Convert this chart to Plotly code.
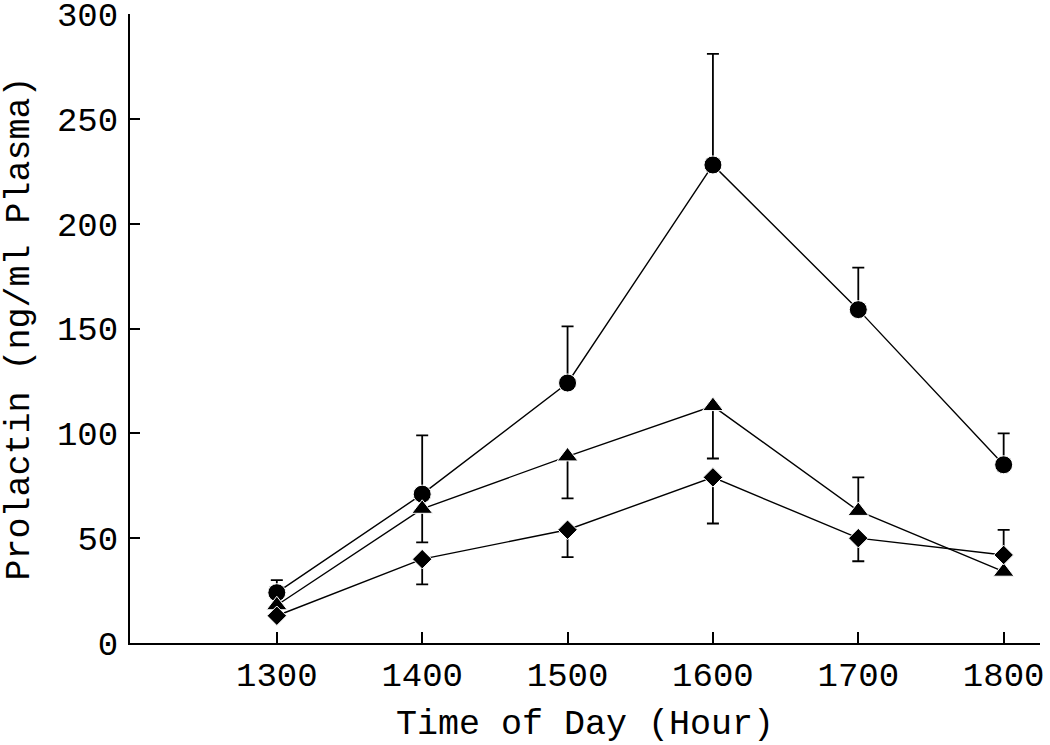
import plotly.graph_objects as go

hours = [1300, 1400, 1500, 1600, 1700, 1800]
tick_labels = ["1300", "1400", "1500", "1600", "1700", "1800"]

circle_vals = [24, 71, 124, 228, 159, 85]
circle_err_up = [6, 28, 27, 53, 20, 15]
circle_err_down = [0, 0, 0, 0, 0, 0]

triangle_vals = [18, 64, 89, 113, 63, 34]
triangle_err_up = [0, 0, 0, 0, 16, 0]
triangle_err_down = [0, 16, 20, 25, 0, 0]

diamond_vals = [13, 40, 54, 79, 50, 42]
diamond_err_up = [0, 0, 0, 0, 0, 12]
diamond_err_down = [0, 12, 13, 22, 11, 0]

y_ticks = [0, 50, 100, 150, 200, 250, 300]

FONT = "Liberation Mono"

fig = go.Figure()

series = [
    ("circle", circle_vals, circle_err_up, circle_err_down, 18),
    ("triangle-up", triangle_vals, triangle_err_up, triangle_err_down, 18),
    ("diamond", diamond_vals, diamond_err_up, diamond_err_down, 15),
]

for sym, vals, up, down, size in series:
    fig.add_trace(go.Scatter(
        x=hours, y=vals, mode="lines+markers",
        line=dict(color="black", width=1.4),
        marker=dict(symbol=sym, size=size, color="black",
                    line=dict(color="white", width=1)),
        error_y=dict(type="data", symmetric=False, array=up, arrayminus=down,
                     color="black", thickness=1.8, width=6),
        showlegend=False,
    ))

fig.update_layout(
    width=1050, height=745,
    margin=dict(l=130, r=10, t=14, b=102),
    paper_bgcolor="white", plot_bgcolor="white",
    font=dict(family=FONT, size=34, color="black"),
)

fig.update_xaxes(
    range=[1199, 1825],
    tickmode="array", tickvals=hours, ticktext=tick_labels,
    ticks="inside", ticklen=11, tickwidth=2, tickcolor="black",
    showline=True, linecolor="black", linewidth=2,
    showgrid=False, zeroline=False, automargin=False,
    ticklabeloverflow="allow",
    title=dict(text="Time of Day (Hour)", font=dict(size=35), standoff=16),
    tickfont=dict(size=34),
)
fig.update_yaxes(
    range=[0, 300],
    tickmode="array", tickvals=y_ticks,
    ticks="inside", ticklen=10, tickwidth=2, tickcolor="black",
    showline=True, linecolor="black", linewidth=2,
    showgrid=False, zeroline=False, automargin=False,
    ticklabelstandoff=3, ticklabeloverflow="allow",
    title=dict(text="Prolactin (ng/ml Plasma)", font=dict(size=35), standoff=30),
    tickfont=dict(size=34),
)

fig.write_html("out.html", config={"displayModeBar": False},
               post_script="document.body.style.margin='0';")
